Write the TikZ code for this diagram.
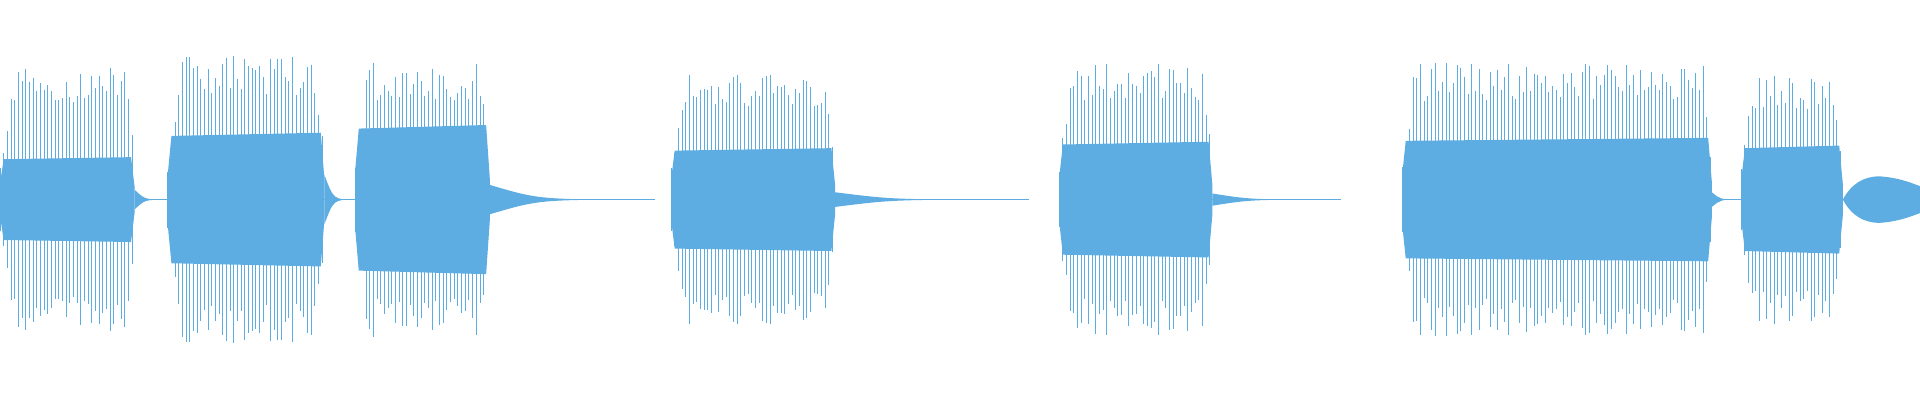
\documentclass[tikz,border=0pt]{standalone}
\usetikzlibrary{positioning}
\definecolor{wavecol}{RGB}{93,173,226}
\tikzset{
  wave/.style={draw=wavecol,line width=0.5pt},
  wavefill/.style={fill=wavecol}
}
% burst: start, end, outer amplitude, core amplitude
\newcommand\burst[4]{%
  \fill[wavefill] (#1,{163-#4*0.4}) -- ({#1+3},{163-#4}) -- ({#2-3},{163-#4*1.05})
    -- (#2,{163-#4*0.3}) -- (#2,{163+#4*0.3}) -- ({#2-3},{163+#4*1.05})
    -- ({#1+3},{163+#4}) -- (#1,{163+#4*0.4}) -- cycle;
  \pgfmathtruncatemacro\xs{#1+3}
  \foreach \x in {#1,\xs,...,#2}{
    \pgfmathsetmacro\tp{min(1,min((\x-#1)/14+0.25,(#2-\x)/10+0.3))}
    \pgfmathsetmacro\a{#3*\tp*(0.72+0.28*rnd)}
    \draw[wave] (\x,{163-\a}) -- (\x,{163+\a});
  }
}
% tail: start, end, amplitude
\newcommand\tail[3]{%
  \fill[wavefill] (#1,{163-#3}) .. controls ({#1+(#2-#1)*0.3},163) .. (#2,163)
    .. controls ({#1+(#2-#1)*0.3},163) .. (#1,{163+#3}) -- cycle;
  \draw[wave] (#1,163) -- (#2,163);
}
\begin{document}
\begin{tikzpicture}[x=0.6122pt,y=-0.6122pt]
  \pgfmathsetseed{7}
  \useasboundingbox (0,0) rectangle (1568,326.7);
  \burst{0}{110}{108}{33}
  \tail{110}{138}{8}
  \burst{137}{265}{118}{52}
  \tail{265}{290}{20}
  \burst{290}{400}{112}{58}
  \tail{400}{535}{12}
  \burst{548}{682}{105}{40}
  \tail{682}{840}{6}
  \burst{865}{990}{112}{45}
  \tail{990}{1095}{5}
  \burst{1145}{1398}{112}{48}
  \tail{1398}{1422}{6}
  \burst{1422}{1505}{102}{42}
  \fill[wavefill] (1505,163) .. controls (1512,150) and (1522,144) .. (1535,144)
    .. controls (1550,145) and (1560,149) .. (1568,152) -- (1568,174)
    .. controls (1560,177) and (1550,181) .. (1535,182)
    .. controls (1522,182) and (1512,176) .. (1505,163) -- cycle;
\end{tikzpicture}
\end{document}
